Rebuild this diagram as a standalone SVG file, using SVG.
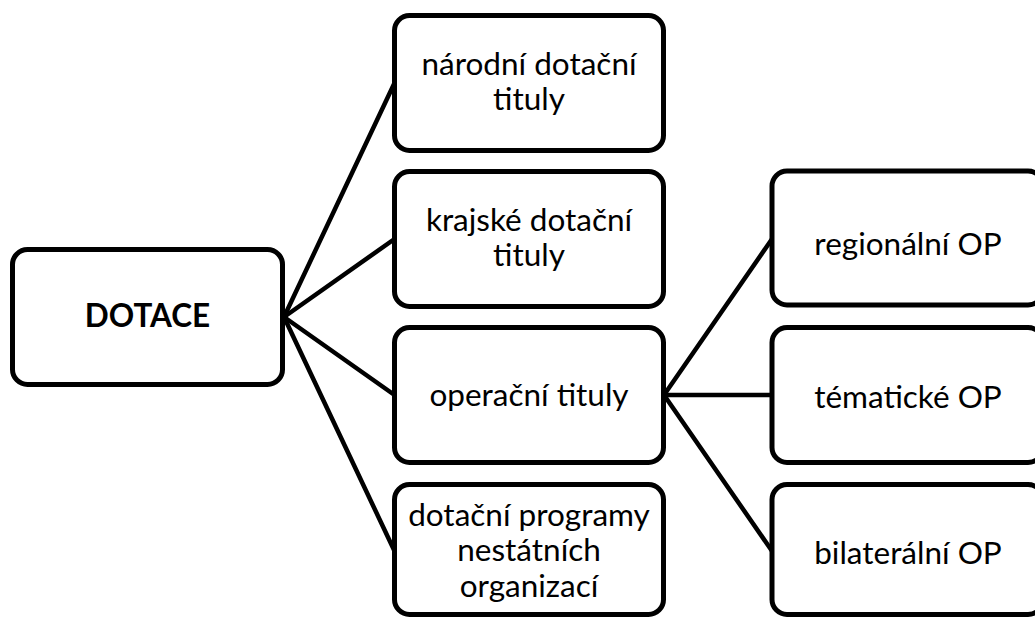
<svg xmlns="http://www.w3.org/2000/svg" width="1035" height="617" viewBox="0 0 1035 617">
<style>
.box{fill:#fff;stroke:#000;stroke-width:5}
.t{font-family:Lato,"Open Sans","Liberation Sans",sans-serif;font-size:31.5px;fill:#000;text-anchor:middle}
.b{font-weight:bold}
.c{stroke:#000;stroke-width:4.5;fill:none;stroke-linecap:round}
</style>
<rect width="1035" height="617" fill="#fff"/>
<g id="connectors">
<line class="c" x1="284" y1="317" x2="394.5" y2="83"/>
<line class="c" x1="284" y1="317" x2="394.5" y2="239"/>
<line class="c" x1="284" y1="317" x2="394.5" y2="395"/>
<line class="c" x1="284" y1="317" x2="394.5" y2="551"/>
<line class="c" x1="664" y1="395" x2="772" y2="239"/>
<line class="c" x1="664" y1="395" x2="772" y2="395"/>
<line class="c" x1="664" y1="395" x2="772" y2="551"/>
</g>
<g id="n-dotace">
<rect class="box" x="12.5" y="249.5" width="270" height="135" rx="15"/>
<text class="t b" x="147.5" y="327">DOTACE</text>
</g>
<g id="n-narodni">
<rect class="box" x="394.5" y="15.5" width="269" height="135" rx="15"/>
<text class="t" x="529" y="75">národní dotační</text>
<text class="t" x="529" y="110">tituly</text>
</g>
<g id="n-krajske">
<rect class="box" x="394.5" y="171.5" width="269" height="135" rx="15"/>
<text class="t" x="529" y="231">krajské dotační</text>
<text class="t" x="529" y="266">tituly</text>
</g>
<g id="n-operacni">
<rect class="box" x="394.5" y="327.5" width="269" height="135" rx="15"/>
<text class="t" x="529" y="406">operační tituly</text>
</g>
<g id="n-nestatni">
<rect class="box" x="394.5" y="484.5" width="269" height="130" rx="15"/>
<text class="t" x="529" y="526">dotační programy</text>
<text class="t" x="529" y="561">nestátních</text>
<text class="t" x="529" y="597">organizací</text>
</g>
<g id="n-regionalni">
<rect class="box" x="772" y="171" width="271" height="134" rx="15"/>
<text class="t" x="908" y="255">regionální OP</text>
</g>
<g id="n-tematicke">
<rect class="box" x="772" y="327.5" width="271" height="135" rx="15"/>
<text class="t" x="908" y="408">tématické OP</text>
</g>
<g id="n-bilateralni">
<rect class="box" x="772" y="484.5" width="271" height="130" rx="15"/>
<text class="t" x="908" y="564">bilaterální OP</text>
</g>
</svg>
